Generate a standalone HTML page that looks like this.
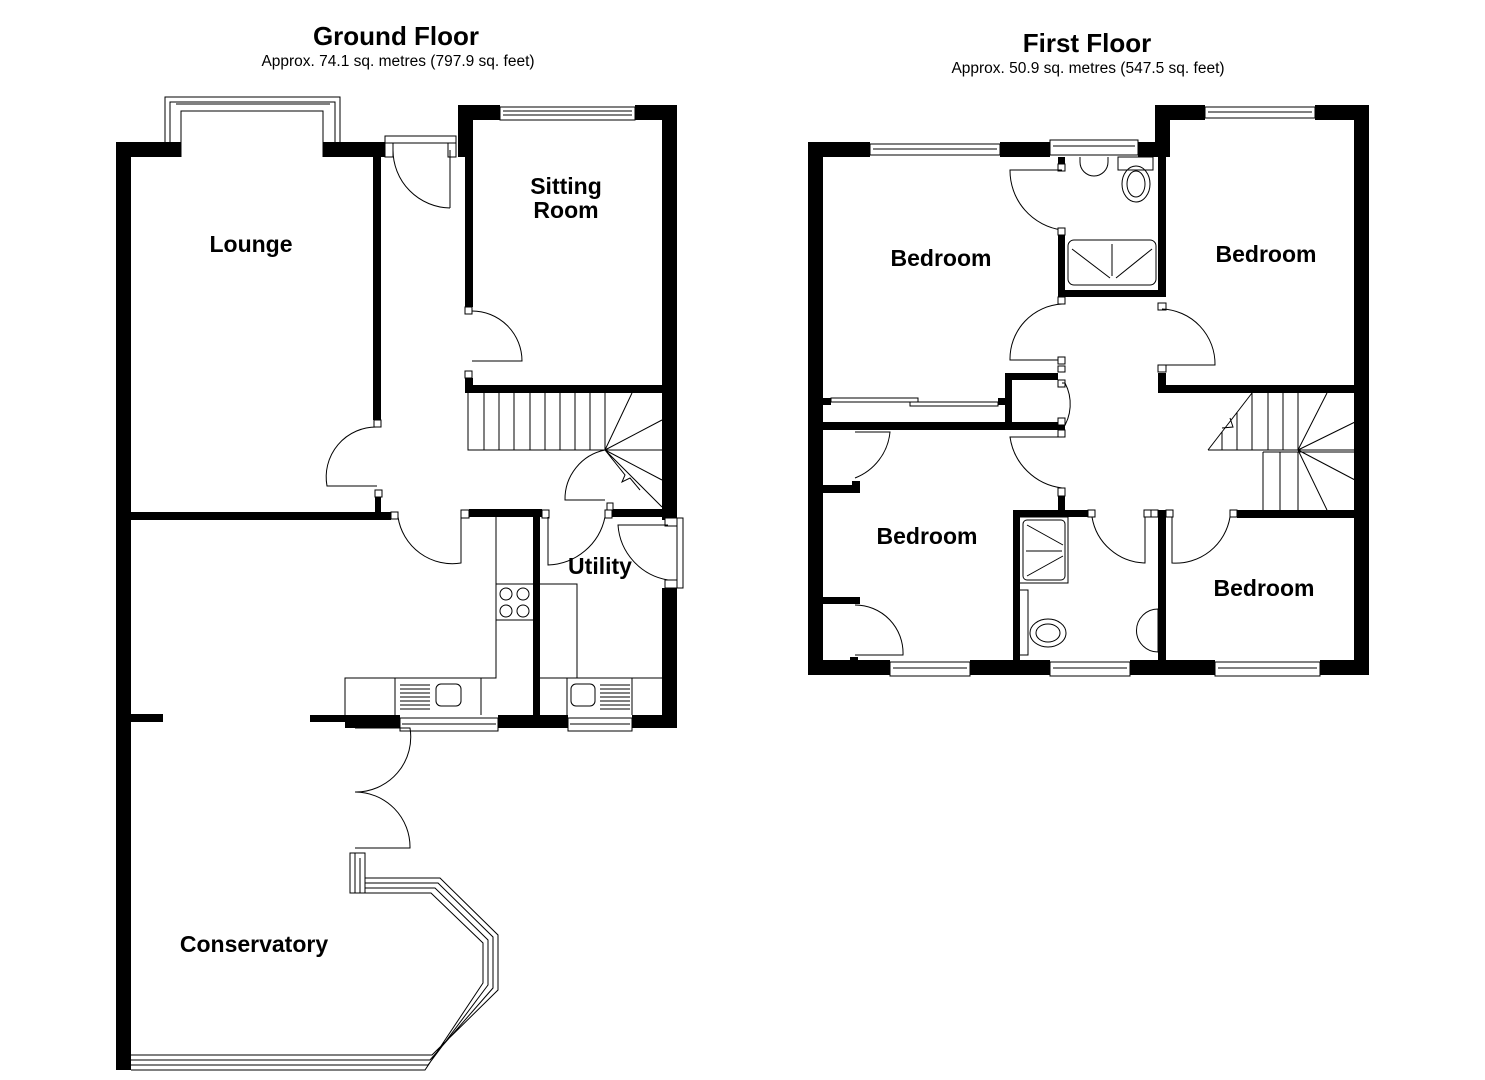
<!DOCTYPE html>
<html><head><meta charset="utf-8"><style>
html,body{margin:0;padding:0;background:#fff;}
svg{display:block}
text{font-family:"Liberation Sans",Arial,sans-serif;font-weight:bold;fill:#000}
.t{stroke:#000;stroke-width:1;fill:none}
.w{fill:#fff;stroke:#000;stroke-width:1}
</style></head><body>
<svg width="1485" height="1080" viewBox="0 0 1485 1080" xmlns="http://www.w3.org/2000/svg">
<!-- Titles -->
<text x="396" y="45" font-size="26" text-anchor="middle">Ground Floor</text>
<text x="398" y="66" font-size="15.5" text-anchor="middle" style="font-weight:normal">Approx. 74.1 sq. metres (797.9 sq. feet)</text>
<text x="1087" y="52" font-size="26" text-anchor="middle">First Floor</text>
<text x="1088" y="73" font-size="15.5" text-anchor="middle" style="font-weight:normal">Approx. 50.9 sq. metres (547.5 sq. feet)</text>

<!-- ===== GROUND FLOOR ===== -->
<g fill="#000">
<rect x="116" y="142" width="15" height="928"/>
<rect x="116" y="142" width="65" height="15"/>
<rect x="323" y="142" width="62" height="15"/>
<rect x="373" y="157" width="8" height="263"/>
<rect x="375" y="497" width="6" height="15"/>
<rect x="131" y="512" width="260" height="8"/>
<rect x="458" y="105" width="42" height="15"/>
<rect x="458" y="105" width="15" height="52"/>
<rect x="635" y="105" width="42" height="15"/>
<rect x="662" y="105" width="15" height="415"/>
<rect x="465" y="157" width="8" height="150"/>
<rect x="465" y="378" width="8" height="15"/>
<rect x="465" y="385" width="197" height="8"/>
<rect x="469" y="509" width="73" height="8"/>
<rect x="533" y="509" width="7" height="206"/>
<rect x="612" y="509" width="50" height="8"/>
<rect x="662" y="588" width="15" height="140"/>
<rect x="345" y="715" width="55" height="13"/>
<rect x="310" y="715" width="40" height="7"/>
<rect x="498" y="715" width="70" height="13"/>
<rect x="632" y="715" width="45" height="13"/>
<rect x="131" y="714" width="32" height="8"/>
</g>
<path class="t" d="M165 157 V97 H340 V157 M170 157 V102 H335 V157 M181 157 V111 H323 V157 M176 104 H330"/>
<rect class="w" x="385" y="136" width="71" height="7"/>
<rect class="w" x="385" y="143" width="8" height="14"/>
<rect class="w" x="448" y="143" width="8" height="14"/>
<path class="t" d="M393 150 A58 58 0 0 0 450 208 M450 150 V208"/>
<path class="t" d="M500 107 H635 V120 H500 Z M503 111 H632 M503 115 H632"/>
<rect class="w" x="465" y="307" width="7" height="7"/>
<path class="t" d="M472 311 A50 50 0 0 1 522 361 H472"/>
<rect class="w" x="465" y="371" width="7" height="7"/>
<rect class="w" x="374" y="420" width="7" height="7"/>
<path class="t" d="M377 427 A50 50 0 0 0 327 486 H377"/>
<rect class="w" x="375" y="490" width="7" height="7"/>
<rect class="w" x="391" y="512" width="7" height="7"/>
<path class="t" d="M398 517 A55 55 0 0 0 461 563 V517"/>
<rect class="w" x="461" y="510" width="8" height="8"/>
<rect class="w" x="542" y="510" width="7" height="8"/>
<rect class="w" x="605" y="510" width="7" height="8"/>
<rect class="w" x="607" y="503" width="6" height="7"/>
<path class="t" d="M605 517 A60 60 0 0 1 548 565 V517"/>
<rect class="w" x="677" y="518" width="6" height="70"/>
<rect class="w" x="665" y="518" width="12" height="8"/>
<rect class="w" x="665" y="580" width="12" height="8"/>
<path class="t" d="M668 580 A60 60 0 0 1 618 525 H668"/>
<path class="t" d="M468 393 V450 H662 M484 393 V450 M499 393 V450 M514 393 V450 M530 393 V450 M545 393 V450 M560 393 V450 M575 393 V450 M590 393 V450 M605 393 V450 M605 450 L632 393 M605 450 L662 420 M605 450 L662 480 M605 450 L662 507 M605 450 L625 475 L622 482 L630 478 L640 490"/>
<path class="t" d="M605 450 A50 50 0 0 0 565 500 H605"/>
<path class="t" d="M496 517 V678 H345 V715 M496 584 H533 M496 620 H533 M395 678 V715 M481 678 V715"/>
<circle class="t" cx="506" cy="594" r="6"/><circle class="t" cx="523" cy="594" r="6"/>
<circle class="t" cx="506" cy="611" r="6"/><circle class="t" cx="523" cy="611" r="6"/>
<path class="t" d="M400 685 H430 M400 689 H430 M400 693 H430 M400 697 H430 M400 701 H430 M400 705 H430 M400 709 H430"/>
<rect class="t" x="436" y="684" width="25" height="22" rx="5"/>
<path class="t" d="M540 584 H577 V678 M567 678 V715 M632 678 V715 M540 678 H662"/>
<rect class="t" x="571" y="684" width="24" height="22" rx="5"/>
<path class="t" d="M600 685 H630 M600 689 H630 M600 693 H630 M600 697 H630 M600 701 H630 M600 705 H630 M600 709 H630"/>
<path class="t" d="M400 718 H498 V731 H400 Z M402 724 H496"/>
<path class="t" d="M568 718 H632 V731 H568 Z M570 724 H630"/>
<path class="t" d="M355 728 H410 A55 55 0 0 1 355 792 A55 55 0 0 1 410 848 H355"/>
<path class="t" d="M350 853 H365 V893 H350 Z M355 853 V893 M360 858 V893 M365 878 H440 L498 935 V990 L432 1055 H131 M365 883 H438 L493 937 V988 L430 1060 H131 M365 888 H435 L488 940 V985 L428 1065 H131 M350 893 H431 L483 943 V983 L425 1070 H131"/>

<text x="251" y="252" font-size="23" text-anchor="middle">Lounge</text>
<text x="566" y="194" font-size="23" text-anchor="middle">Sitting</text>
<text x="566" y="218" font-size="23" text-anchor="middle">Room</text>
<text x="600" y="574" font-size="23" text-anchor="middle">Utility</text>
<text x="254" y="952" font-size="23" text-anchor="middle">Conservatory</text>

<!-- ===== FIRST FLOOR ===== -->
<g fill="#000">
<rect x="808" y="142" width="15" height="533"/>
<rect x="808" y="142" width="62" height="15"/>
<rect x="1000" y="142" width="50" height="15"/>
<rect x="1138" y="142" width="20" height="15"/>
<rect x="1155" y="105" width="15" height="52"/>
<rect x="1155" y="105" width="50" height="15"/>
<rect x="1315" y="105" width="54" height="15"/>
<rect x="1354" y="105" width="15" height="570"/>
<rect x="808" y="660" width="82" height="15"/>
<rect x="970" y="660" width="80" height="15"/>
<rect x="1130" y="660" width="85" height="15"/>
<rect x="1320" y="660" width="49" height="15"/>
<rect x="1058" y="235" width="7" height="62"/>
<rect x="1058" y="290" width="108" height="7"/>
<rect x="1158" y="120" width="8" height="177"/>
<rect x="1058" y="157" width="7" height="7"/>
<rect x="1158" y="373" width="8" height="20"/>
<rect x="1158" y="385" width="196" height="8"/>
<rect x="823" y="422" width="242" height="8"/>
<rect x="1005" y="373" width="7" height="50"/>
<rect x="1005" y="373" width="53" height="7"/>
<rect x="823" y="398" width="8" height="7"/>
<rect x="998" y="398" width="8" height="7"/>
<rect x="823" y="485" width="37" height="8"/>
<rect x="852" y="481" width="8" height="12"/>
<rect x="823" y="597" width="37" height="7"/>
<rect x="850" y="657" width="8" height="5"/>
<rect x="1058" y="496" width="7" height="14"/>
<rect x="1013" y="510" width="7" height="150"/>
<rect x="1013" y="510" width="75" height="7"/>
<rect x="1158" y="510" width="8" height="150"/>
<rect x="1237" y="510" width="117" height="8"/>
</g>
<path class="t" d="M870 144 H1000 V155 H870 Z M873 149 H997"/>
<path class="t" d="M1050 140 H1138 V155 H1050 Z M1053 146 H1135"/>
<path class="t" d="M1205 107 H1315 V118 H1205 Z M1208 112 H1312"/>
<path class="t" d="M890 662 H970 V676 H890 Z M893 668 H967"/>
<path class="t" d="M1050 662 H1130 V676 H1050 Z M1053 668 H1127"/>
<path class="t" d="M1215 662 H1320 V676 H1215 Z M1218 668 H1317"/>
<rect class="w" x="1058" y="164" width="7" height="7"/>
<path class="t" d="M1062 170 H1010 A60 60 0 0 0 1062 230"/>
<rect class="w" x="1058" y="228" width="7" height="7"/>
<path class="t" d="M1080 157 V162 A14 14 0 0 0 1108 162 V157"/>
<path class="t" d="M1118 157 H1153 V170 H1118 Z"/>
<ellipse class="t" cx="1136" cy="184" rx="14" ry="18"/>
<ellipse class="t" cx="1136" cy="184" rx="9" ry="13"/>
<rect class="t" x="1068" y="240" width="88" height="45" rx="6"/>
<path class="t" d="M1072 249 L1110 278 M1112 244 V276 M1152 249 L1116 278"/>
<rect class="w" x="1058" y="297" width="7" height="7"/>
<path class="t" d="M1062 304 A55 55 0 0 0 1010 360 H1062"/>
<rect class="w" x="1058" y="357" width="7" height="7"/>
<rect class="w" x="1158" y="303" width="8" height="7"/>
<path class="t" d="M1162 309 A55 55 0 0 1 1215 365 H1162"/>
<rect class="w" x="1158" y="365" width="8" height="7"/>
<rect class="w" x="1058" y="366" width="7" height="6"/>
<rect class="w" x="1058" y="380" width="7" height="7"/>
<path class="t" d="M1062 383 H1065 A45 45 0 0 1 1062 430"/>
<rect class="w" x="1058" y="418" width="7" height="7"/>
<rect class="w" x="1058" y="430" width="7" height="7"/>
<path class="t" d="M831 398 H918 V402 H831 Z M910 402 H998 V406 H910 Z"/>
<path class="t" d="M1062 437 H1010 A60 60 0 0 0 1062 488"/>
<rect class="w" x="1058" y="488" width="7" height="8"/>
<path class="t" d="M855 432 H890 A55 55 0 0 1 855 478"/>
<path class="t" d="M855 605 A48 48 0 0 1 903 655 H855"/>
<rect class="w" x="1088" y="510" width="7" height="7"/>
<path class="t" d="M1092 517 A55 55 0 0 0 1145 563 V517"/>
<rect class="w" x="1144" y="510" width="7" height="7"/>
<rect class="w" x="1151" y="510" width="7" height="7"/>
<rect class="w" x="1166" y="510" width="7" height="7"/>
<path class="t" d="M1172 517 V563 A55 55 0 0 0 1230 517"/>
<rect class="w" x="1230" y="510" width="7" height="7"/>
<path class="t" d="M1020 517 H1068 V583 H1020"/>
<rect class="t" x="1023" y="520" width="42" height="60" rx="4"/>
<path class="t" d="M1027 525 L1063 545 M1026 551 H1062 M1027 576 L1063 556"/>
<path class="t" d="M1020 590 H1028 V655 H1020"/>
<ellipse class="t" cx="1048" cy="633" rx="18" ry="14"/>
<ellipse class="t" cx="1048" cy="633" rx="12" ry="9"/>
<path class="t" d="M1158 609 A20 20 0 0 0 1158 652 Z"/>
<path class="t" d="M1208 450 H1355 M1208 450 L1252 393 M1222 432 V450 M1237 412 V450 M1252 393 V450 M1268 393 V450 M1283 393 V450 M1298 393 V450 M1298 450 L1327 393 M1298 450 L1355 422 M1298 450 L1355 480 M1298 450 L1327 510 M1263 452 H1355 M1263 452 V510 M1280 452 V510 M1298 452 V510 M1230 418 L1233 427 L1222 428"/>
<text x="941" y="266" font-size="23" text-anchor="middle">Bedroom</text>
<text x="1266" y="262" font-size="23" text-anchor="middle">Bedroom</text>
<text x="927" y="544" font-size="23" text-anchor="middle">Bedroom</text>
<text x="1264" y="596" font-size="23" text-anchor="middle">Bedroom</text>
</svg>
</body></html>
